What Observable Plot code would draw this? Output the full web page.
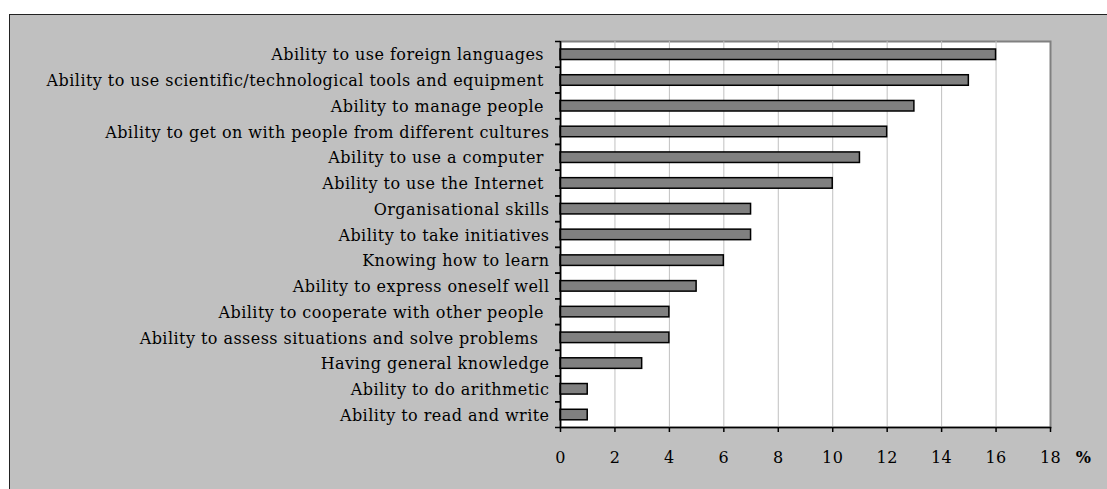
<!DOCTYPE html>
<html><head><meta charset="utf-8">
<script src="https://cdn.jsdelivr.net/npm/d3@7"></script>
<script src="https://cdn.jsdelivr.net/npm/@observablehq/plot@0.6"></script>
<style>
html,body{margin:0;padding:0;background:#fff;width:1107px;height:489px;overflow:hidden;}
#wrap{position:absolute;left:9px;top:14px;width:1110px;height:500px;background:#c0c0c0;border-top:1.5px solid #222;border-left:1.5px solid #222;}
#chart{position:absolute;left:0;top:0;}
#chart svg text{font-family:"DejaVu Serif" !important;letter-spacing:0.45px;white-space:pre;}
</style></head><body>
<div id="wrap"></div>
<div id="chart"></div>
<script>
const skills = [
  "Ability to use foreign languages ",
  "Ability to use scientific/technological tools and equipment ",
  "Ability to manage people ",
  "Ability to get on with people from different cultures",
  "Ability to use a computer ",
  "Ability to use the Internet ",
  "Organisational skills",
  "Ability to take initiatives",
  "Knowing how to learn",
  "Ability to express oneself well",
  "Ability to cooperate with other people ",
  "Ability to assess situations and solve problems  ",
  "Having general knowledge",
  "Ability to do arithmetic",
  "Ability to read and write"
];
const shares = [16, 15, 13, 12, 11, 10, 7, 7, 6, 5, 4, 4, 3, 1, 1];
const xTicks = [0, 2, 4, 6, 8, 10, 12, 14, 16, 18];
const unitLabel = ["%"];

const data = skills.map((s, i) => ({skill: s, value: shares[i]}));
const W = 1107, H = 489, mL = 560, mR = 57, mT = 41, mB = 62;
const band = (H - mT - mB) / skills.length;
const serif = "DejaVu Serif";

const plot = Plot.plot({
  width: W, height: H,
  marginLeft: mL, marginRight: mR, marginTop: mT, marginBottom: mB,
  style: {background: "transparent", fontFamily: serif, fontSize: "16px", color: "#000", overflow: "visible"},
  x: {domain: [0, 18], ticks: xTicks},
  y: {domain: skills, padding: 0, round: false},
  marks: [
    Plot.frame({fill: "white", stroke: "#808080", strokeWidth: 2}),
    Plot.gridX(xTicks.slice(1, -1), {stroke: "#c0c0c0", strokeOpacity: 1, strokeWidth: 1}),
    Plot.barX(data, {x: "value", y: "skill", fill: "#808080", stroke: "#000", strokeWidth: 1.5, insetTop: 8, insetBottom: 7.2}),
    Plot.ruleX([0], {stroke: "#000", strokeWidth: 1.5}),
    Plot.frame({anchor: "bottom", stroke: "#000", strokeWidth: 1.5}),
    Plot.axisX({ticks: xTicks, tickSize: 5, tickPadding: 19, stroke: "#000", strokeWidth: 1.5, label: null, tickFormat: d => String(d), fontSize: 16, fontFamily: serif}),
    Plot.axisY({tickSize: 0, tickPadding: 11, label: null, fontSize: 16, fontFamily: serif, dy: 1}),
    Plot.axisY({tickSize: 5, text: null, label: null, dy: -band / 2, stroke: "#000", strokeWidth: 1.5}),
    Plot.axisY({tickSize: 5, text: null, label: null, dy: band / 2, stroke: "#000", strokeWidth: 1.5}),
    Plot.text(unitLabel, {text: d => d, frameAnchor: "bottom-right", dx: 33, dy: 35, fontWeight: "bold", fontSize: 16, fontFamily: serif, textAnchor: "middle"})
  ]
});
document.getElementById("chart").appendChild(plot);
</script>
</body></html>
